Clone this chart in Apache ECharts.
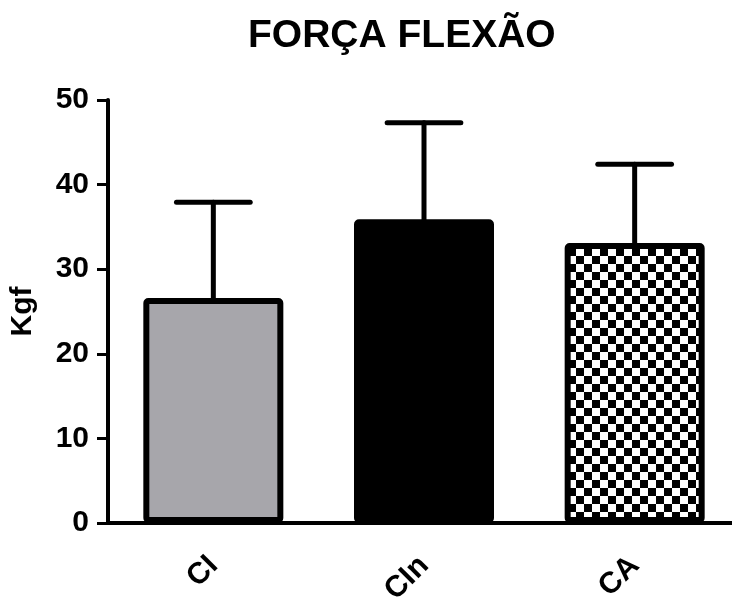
<!DOCTYPE html>
<html>
<head>
<meta charset="utf-8">
<script src="https://cdn.jsdelivr.net/npm/echarts@6/dist/echarts.min.js"></script>
<style>
  html, body { margin: 0; padding: 0; background: #fff; }
  #chart { width: 732px; height: 604px; }
</style>
</head>
<body>
<div id="chart"></div>
<script>
const categories = ['CI', 'CIn', 'CA']
const means = [26.6, 35.9, 33.1]
const upperErr = [37.9, 47.3, 42.4]
const yTicks = [0, 10, 20, 30, 40, 50]

const FONT = '"Liberation Sans", Arial, sans-serif'

// checkered fill for the last bar
function checker(size) {
  const c = document.createElement('canvas')
  c.width = size * 2
  c.height = size * 2
  const ctx = c.getContext('2d')
  ctx.fillStyle = '#fff'
  ctx.fillRect(0, 0, size * 2, size * 2)
  ctx.fillStyle = '#000'
  ctx.fillRect(0, 0, size, size)
  ctx.fillRect(size, size, size, size)
  return c
}

const fills = ['#a7a6ab', '#000000', { image: checker(8), repeat: 'repeat' }]

const chart = echarts.init(document.getElementById('chart'))

chart.setOption({
  animation: false,
  title: {
    text: 'FORÇA FLEXÃO',
    left: 243,
    top: 12,
    textStyle: { fontFamily: FONT, fontSize: 39, fontWeight: 'bold', color: '#000' },
  },
  grid: { left: 108, right: -8, top: 100, bottom: 81, outerBoundsMode: 'none' },
  xAxis: {
    type: 'category',
    data: categories,
    axisLine: { lineStyle: { color: '#000', width: 4 } },
    axisTick: { alignWithLabel: true, length: 12, lineStyle: { color: '#000', width: 3 } },
    axisLabel: {
      rotate: 45,
      margin: 38,
      fontFamily: FONT,
      fontSize: 30,
      fontWeight: 'bold',
      color: '#000',
    },
  },
  yAxis: {
    type: 'value',
    min: yTicks[0],
    max: yTicks[yTicks.length - 1],
    interval: 10,
    name: 'Kgf',
    nameLocation: 'middle',
    nameGap: 70,
    nameTextStyle: { fontFamily: FONT, fontSize: 30, fontWeight: 'bold', color: '#000' },
    axisLine: { show: true, lineStyle: { color: '#000', width: 4 } },
    axisTick: { show: true, length: 11, lineStyle: { color: '#000', width: 3 } },
    axisLabel: { margin: 19, fontFamily: FONT, fontSize: 30, fontWeight: 'bold', color: '#000' },
    splitLine: { show: false },
  },
  series: [
    {
      type: 'custom',
      z: 1,
      data: categories.map((c, i) => [i, means[i], upperErr[i]]),
      renderItem(params, api) {
        const base = api.coord([api.value(0), api.value(1)])
        const top = api.coord([api.value(0), api.value(2)])
        const half = api.size([1, 0])[0] * 0.175
        const style = { stroke: '#000', lineWidth: 5, lineCap: 'round' }
        return {
          type: 'group',
          children: [
            { type: 'line', shape: { x1: top[0], y1: base[1], x2: top[0], y2: top[1] }, style },
            { type: 'line', shape: { x1: top[0] - half, y1: top[1], x2: top[0] + half, y2: top[1] }, style },
          ],
        }
      },
    },
    {
      type: 'bar',
      z: 2,
      barWidth: 140,
      data: means.map((v, i) => ({
        value: v,
        itemStyle: { color: fills[i], borderColor: '#000', borderWidth: 6, borderRadius: 2 },
      })),
    },
  ],
})
</script>
</body>
</html>
